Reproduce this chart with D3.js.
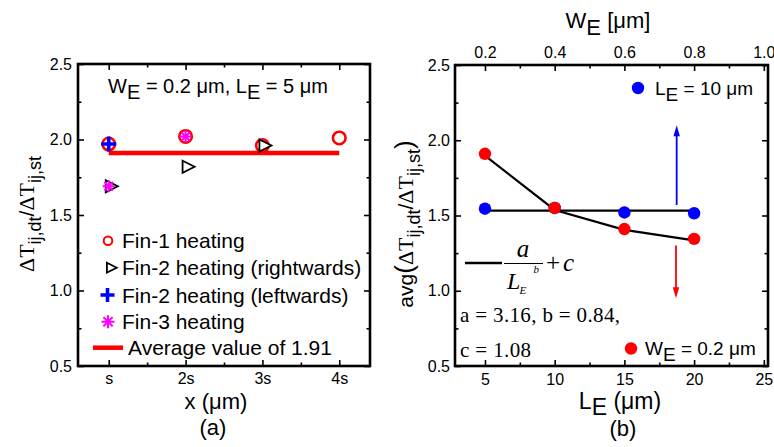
<!DOCTYPE html>
<html><head><meta charset="utf-8">
<script src="https://cdn.jsdelivr.net/npm/d3@7"></script>
<style>
body{margin:0;background:#fff}
svg{display:block}
text{fill:#000}
</style>
</head><body>
<svg id="fig" width="774" height="447"></svg>
<script>
// ---- panel (a): normalized transient rise vs. distance ----
const posA = [1, 2, 3, 4];
const xTickLabelsA = ["s", "2s", "3s", "4s"];
const fin1 = [1.97, 2.02, 1.96, 2.01];          // at posA
const fin2RightPos = [1, 2, 3];
const fin2Right = [1.69, 1.82, 1.96];
const fin2LeftPos = [1];
const fin2Left = [1.97];
const fin3Pos = [1, 2];
const fin3 = [1.69, 2.02];
const avgValue = 1.91;
const yTicks = [0.5, 1.0, 1.5, 2.0, 2.5];
const legendA = ["Fin-1 heating", "Fin-2 heating (rightwards)", "Fin-2 heating (leftwards)", "Fin-3 heating", "Average value of 1.91"];

// ---- panel (b): averaged ratio vs. element length / width ----
const lengthsLE = [5, 10, 15, 20];
const redW02 = [1.91, 1.55, 1.41, 1.345];       // W_E = 0.2 um, vs L_E
const widthsWE = [0.2, 0.4, 0.6, 0.8];
const blueL10 = [1.545, 1.55, 1.52, 1.515];     // L_E = 10 um, vs W_E
const fitA = 3.16, fitB = 0.84, fitC = 1.08;    // a / L_E^b + c
const xTicksLE = [5, 10, 15, 20, 25];
const xTicksWE = [0.2, 0.4, 0.6, 0.8, 1.0];

const svg = d3.select("#fig");
const SANS = "'Liberation Sans', Arial, sans-serif";
const SERIF = "'Liberation Serif', 'Times New Roman', serif";

function drawAxis(g, gen, transform, labels) {
  const a = g.append("g").attr("transform", transform).call(gen);
  a.select(".domain").remove();
  a.selectAll(".tick line").attr("stroke", "#000").attr("stroke-width", 1.6);
  a.selectAll(".tick text").style("font-family", SANS).style("font-size", "16px").attr("fill", "#000");
  if (!labels) a.selectAll(".tick text").remove();
  return a;
}

function frame(g, x, y) {
  const [x0, x1] = x.range(), [y0, y1] = y.range();
  g.append("rect").attr("x", x0).attr("y", y1).attr("width", x1 - x0).attr("height", y0 - y1)
    .attr("fill", "none").attr("stroke", "#000").attr("stroke-width", 2.6);
}

// ================= panel (a) =================
const xA = d3.scaleLinear().domain([0.6, 4.4]).range([78, 370]);
const yA = d3.scaleLinear().domain([0.5, 2.5]).range([366, 64]);
const gA = svg.append("g");
const minorXA = [1.5, 2.5, 3.5];
const minorY = [0.75, 1.25, 1.75, 2.25];

drawAxis(gA, d3.axisBottom(xA).tickValues(posA).tickFormat((d, i) => xTickLabelsA[i]).tickSizeInner(-6).tickSizeOuter(0).tickPadding(7), `translate(0,${yA.range()[0]})`, true);
drawAxis(gA, d3.axisBottom(xA).tickValues(minorXA).tickSizeInner(-3.5).tickSizeOuter(0), `translate(0,${yA.range()[0]})`, false);
drawAxis(gA, d3.axisTop(xA).tickValues(posA).tickSizeInner(-6).tickSizeOuter(0), `translate(0,${yA.range()[1]})`, false);
drawAxis(gA, d3.axisTop(xA).tickValues(minorXA).tickSizeInner(-3.5).tickSizeOuter(0), `translate(0,${yA.range()[1]})`, false);
drawAxis(gA, d3.axisLeft(yA).tickValues(yTicks).tickFormat(d3.format(".1f")).tickSizeInner(-6).tickSizeOuter(0).tickPadding(6), `translate(${xA.range()[0]},0)`, true);
drawAxis(gA, d3.axisLeft(yA).tickValues(minorY).tickSizeInner(-3.5).tickSizeOuter(0), `translate(${xA.range()[0]},0)`, false);
drawAxis(gA, d3.axisRight(yA).tickValues(yTicks).tickSizeInner(-6).tickSizeOuter(0), `translate(${xA.range()[1]},0)`, false);
drawAxis(gA, d3.axisRight(yA).tickValues(minorY).tickSizeInner(-3.5).tickSizeOuter(0), `translate(${xA.range()[1]},0)`, false);
frame(gA, xA, yA);

// marker helpers
function circleMark(g, cx, cy, r, sw) {
  g.append("circle").attr("cx", cx).attr("cy", cy).attr("r", r)
    .attr("fill", "none").attr("stroke", "#ff0000").attr("stroke-width", sw);
}
function triMark(g, cx, cy, s) {
  g.append("path").attr("d", `M${cx - 5 * s},${cy - 6 * s}L${cx + 7 * s},${cy}L${cx - 5 * s},${cy + 6 * s}Z`)
    .attr("fill", "#fff").attr("stroke", "#000").attr("stroke-width", 1.8).attr("stroke-linejoin", "miter");
}
function plusMark(g, cx, cy, r) {
  g.append("path").attr("d", `M${cx - r},${cy}H${cx + r}M${cx},${cy - r}V${cy + r}`)
    .attr("stroke", "#0000ff").attr("stroke-width", 3.6).attr("fill", "none");
}
function starMark(g, cx, cy, r) {
  const d = r * Math.SQRT1_2;
  g.append("path").attr("d", `M${cx},${cy - r}V${cy + r}M${cx - r},${cy}H${cx + r}M${cx - d},${cy - d}L${cx + d},${cy + d}M${cx - d},${cy + d}L${cx + d},${cy - d}`)
    .attr("stroke", "#ff00ff").attr("stroke-width", 2).attr("fill", "none");
}

// average line
gA.append("line").attr("x1", xA(posA[0])).attr("x2", xA(posA[posA.length - 1]))
  .attr("y1", yA(avgValue)).attr("y2", yA(avgValue))
  .attr("stroke", "#ff0000").attr("stroke-width", 4.5);

posA.forEach((p, i) => circleMark(gA, xA(p), yA(fin1[i]), 6.3, 2.6));
fin2RightPos.forEach((p, i) => triMark(gA, xA(p) + 2, yA(fin2Right[i]), 1));
fin2LeftPos.forEach((p, i) => plusMark(gA, xA(p), yA(fin2Left[i]), 7.5));
fin3Pos.forEach((p, i) => starMark(gA, xA(p), yA(fin3[i]), 6));

// title inside panel (a)
const tA = gA.append("text").attr("x", 218).attr("y", 93).attr("text-anchor", "middle")
  .style("font-family", SANS).style("font-size", "20px");
tA.append("tspan").text("W");
tA.append("tspan").attr("dy", 6).text("E");
tA.append("tspan").attr("dy", -6).text(" = 0.2 \u03bcm, L");
tA.append("tspan").attr("dy", 6).text("E");
tA.append("tspan").attr("dy", -6).text(" = 5 \u03bcm");

// legend (a)
const legY = [240.7, 267.7, 295, 321.7, 347.7];
circleMark(gA, 108, legY[0], 4.3, 2);
triMark(gA, 111, legY[1], 0.82);
plusMark(gA, 107.5, legY[2], 7);
starMark(gA, 108, legY[3], 6.5);
gA.append("line").attr("x1", 93).attr("x2", 123).attr("y1", legY[4]).attr("y2", legY[4])
  .attr("stroke", "#ff0000").attr("stroke-width", 4.5);
legendA.forEach((t, i) => {
  gA.append("text").attr("x", i === 4 ? 128 : 122).attr("y", legY[i]).attr("dy", "0.36em")
    .style("font-family", SANS).style("font-size", "21px").text(t);
});

// axis titles (a)
gA.append("text").attr("x", 216).attr("y", 409).attr("text-anchor", "middle")
  .style("font-family", SANS).style("font-size", "22px").text("x (\u03bcm)");
gA.append("text").attr("x", 213).attr("y", 435).attr("text-anchor", "middle")
  .style("font-family", SANS).style("font-size", "22px").text("(a)");

function ratioLabel(parent, x, y, withAvg) {
  const t = parent.append("text").attr("transform", `translate(${x},${y}) rotate(-90)`)
    .attr("text-anchor", "middle").style("font-family", SANS).style("font-size", "21px");
  if (withAvg) {
    t.append("tspan").text("avg");
    t.append("tspan").style("font-size", "26px").text("(");
  }
  t.append("tspan").style("font-family", SERIF).style("font-size", "22px").text("\u0394T");
  t.append("tspan").attr("dy", 7).style("font-size", "18px").text("ij,dt");
  t.append("tspan").attr("dy", -7).style("font-size", "21px").text("/");
  t.append("tspan").style("font-family", SERIF).style("font-size", "22px").text("\u0394T");
  t.append("tspan").attr("dy", 7).style("font-size", "18px").text("ij,st");
  if (withAvg) t.append("tspan").attr("dy", -7).style("font-size", "26px").text(")");
}
ratioLabel(gA, 34, 214, false);

// ================= panel (b) =================
const xB = d3.scaleLinear().domain([2.85, 25.3]).range([455, 768]);
const xBtop = d3.scaleLinear().domain([2.85 / 25, 25.3 / 25]).range([455, 768]);
const yB = d3.scaleLinear().domain([0.5, 2.5]).range([366, 65]);
const gB = svg.append("g");
const minorLE = [7.5, 12.5, 17.5, 22.5];
const minorWE = [0.3, 0.5, 0.7, 0.9];

drawAxis(gB, d3.axisBottom(xB).tickValues(xTicksLE).tickFormat(d3.format("d")).tickSizeInner(-6).tickSizeOuter(0).tickPadding(8), `translate(0,${yB.range()[0]})`, true);
drawAxis(gB, d3.axisBottom(xB).tickValues(minorLE).tickSizeInner(-3.5).tickSizeOuter(0), `translate(0,${yB.range()[0]})`, false);
drawAxis(gB, d3.axisTop(xBtop).tickValues(xTicksWE).tickFormat(d3.format(".1f")).tickSizeInner(-6).tickSizeOuter(0).tickPadding(7), `translate(0,${yB.range()[1]})`, true);
drawAxis(gB, d3.axisTop(xBtop).tickValues(minorWE).tickSizeInner(-3.5).tickSizeOuter(0), `translate(0,${yB.range()[1]})`, false);
drawAxis(gB, d3.axisLeft(yB).tickValues(yTicks).tickFormat(d3.format(".1f")).tickSizeInner(-6).tickSizeOuter(0).tickPadding(5), `translate(${xB.range()[0]},0)`, true);
drawAxis(gB, d3.axisLeft(yB).tickValues(minorY).tickSizeInner(-3.5).tickSizeOuter(0), `translate(${xB.range()[0]},0)`, false);
drawAxis(gB, d3.axisRight(yB).tickValues(yTicks).tickSizeInner(-6).tickSizeOuter(0), `translate(${xB.range()[1]},0)`, false);
drawAxis(gB, d3.axisRight(yB).tickValues(minorY).tickSizeInner(-3.5).tickSizeOuter(0), `translate(${xB.range()[1]},0)`, false);
frame(gB, xB, yB);

// power-law fit through the L_E points and flat mean line for the W_E series
const fitVals = lengthsLE.map(L => fitA / Math.pow(L, fitB) + fitC);
gB.append("path").datum(lengthsLE.map((L, i) => [L, fitVals[i]]))
  .attr("d", d3.line().x(d => xB(d[0])).y(d => yB(d[1])))
  .attr("fill", "none").attr("stroke", "#000").attr("stroke-width", 2.2);
const blueMean = d3.mean(blueL10);
gB.append("line").attr("x1", xBtop(widthsWE[0])).attr("x2", xBtop(widthsWE[widthsWE.length - 1]))
  .attr("y1", yB(blueMean)).attr("y2", yB(blueMean)).attr("stroke", "#000").attr("stroke-width", 2.2);

gB.selectAll(".blue").data(widthsWE).join("circle").attr("class", "blue")
  .attr("cx", d => xBtop(d)).attr("cy", (d, i) => yB(blueL10[i])).attr("r", 6.2).attr("fill", "#0000ff");
gB.selectAll(".red").data(lengthsLE).join("circle").attr("class", "red")
  .attr("cx", d => xB(d)).attr("cy", (d, i) => yB(redW02[i])).attr("r", 6.2).attr("fill", "#ff0000");

// arrows pointing to the axis each series belongs to
function arrow(g, x, yFrom, yTo, color) {
  const dir = Math.sign(yTo - yFrom);
  g.append("line").attr("x1", x).attr("x2", x).attr("y1", yFrom).attr("y2", yTo - dir * 8)
    .attr("stroke", color).attr("stroke-width", 1.8);
  g.append("path").attr("d", `M${x},${yTo}L${x - 3.2},${yTo - dir * 11}L${x + 3.2},${yTo - dir * 11}Z`).attr("fill", color);
}
arrow(gB, xBtop(0.75), yB(1.57), yB(2.1), "#0000ff");
arrow(gB, xB(18.7), yB(1.3), yB(0.95), "#ff0000");

// legend (b)
gB.append("circle").attr("cx", 638).attr("cy", 88).attr("r", 6.2).attr("fill", "#0000ff");
const lb1 = gB.append("text").attr("x", 655).attr("y", 95).style("font-family", SANS).style("font-size", "19px");
lb1.append("tspan").text("L");
lb1.append("tspan").attr("dy", 6).text("E");
lb1.append("tspan").attr("dy", -6).text(" = 10 \u03bcm");
gB.append("circle").attr("cx", 631).attr("cy", 348.5).attr("r", 6.2).attr("fill", "#ff0000");
const lb2 = gB.append("text").attr("x", 645).attr("y", 355).style("font-family", SANS).style("font-size", "19px");
lb2.append("tspan").text("W");
lb2.append("tspan").attr("dy", 6).text("E");
lb2.append("tspan").attr("dy", -6).text(" = 0.2 \u03bcm");

// fit formula legend
gB.append("line").attr("x1", 465).attr("x2", 502).attr("y1", 263).attr("y2", 263).attr("stroke", "#000").attr("stroke-width", 2.4);
gB.append("line").attr("x1", 504).attr("x2", 543).attr("y1", 263.5).attr("y2", 263.5).attr("stroke", "#000").attr("stroke-width", 1);
const it = (x, y, size, txt, anchor) => gB.append("text").attr("x", x).attr("y", y).attr("text-anchor", anchor || "start")
  .style("font-family", SERIF).style("font-style", "italic").style("font-size", size + "px").text(txt);
it(523, 257, 25, "a", "middle");
it(507, 288.5, 24, "L");
it(519.5, 293.5, 11, "E");
it(533.5, 272.5, 11, "b");
gB.append("text").attr("x", 546).attr("y", 270.5).style("font-family", SERIF).style("font-size", "25px").text("+");
it(563, 270.5, 25, "c");

const up = (x, y, txt, len) => gB.append("text").attr("x", x).attr("y", y)
  .attr("textLength", len).attr("lengthAdjust", "spacing")
  .style("font-family", SERIF).style("font-size", "21px").text(txt);
up(460, 322, "a = 3.16, b = 0.84,", 160);
up(460, 357, "c = 1.08", 71);

// axis titles (b)
const tb = gB.append("text").attr("x", 608).attr("y", 28).attr("text-anchor", "middle")
  .style("font-family", SANS).style("font-size", "22px");
tb.append("tspan").text("W");
tb.append("tspan").attr("dy", 7).text("E");
tb.append("tspan").attr("dy", -7).text(" [\u03bcm]");
const bb = gB.append("text").attr("x", 620).attr("y", 409).attr("text-anchor", "middle")
  .style("font-family", SANS).style("font-size", "23px");
bb.append("tspan").text("L");
bb.append("tspan").attr("dy", 6).text("E");
bb.append("tspan").attr("dy", -6).text(" (\u03bcm)");
gB.append("text").attr("x", 623).attr("y", 436).attr("text-anchor", "middle")
  .style("font-family", SANS).style("font-size", "22px").text("(b)");

ratioLabel(gB, 413, 224, true);
</script>
</body></html>
